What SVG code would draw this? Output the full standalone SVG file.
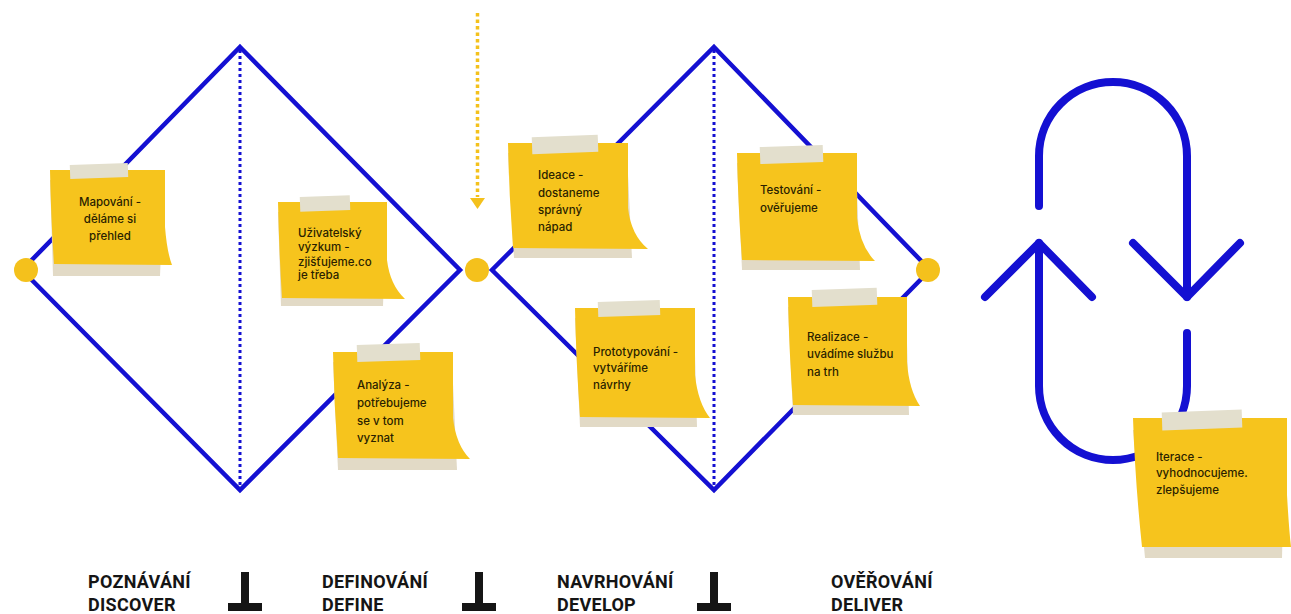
<svg xmlns="http://www.w3.org/2000/svg" width="1291" height="614" viewBox="0 0 1291 614">
<defs>
<style>
.dia{fill:none;stroke:#1410d2;stroke-width:4.5;stroke-linejoin:miter}
.dot{fill:none;stroke:#1410d2;stroke-width:3;stroke-dasharray:3 3}
.ydot{fill:#f4c11c}
.loop{fill:none;stroke:#1410d2;stroke-width:8;stroke-linecap:round;stroke-linejoin:round}
.sh{fill:#e2dac6}
.ny{fill:#f6c41d}
.tape{fill:#e3dfcd}
.nt{font-family:Inter,"Noto Sans",sans-serif;font-size:11.5px;font-weight:500;fill:#2a1f00}
.lab{font-family:Roboto,"Liberation Sans",sans-serif;font-weight:700;font-size:18px;letter-spacing:0.3px;fill:#151515}
.sep{fill:#151515}
</style>
</defs>
<rect width="1291" height="614" fill="#ffffff"/>

<g id="connectors">
<polygon class="dia" points="240,47 460,270 240,490 22,270"/>
<polygon class="dia" points="714,47 930,270 714,490 492,270"/>
<line class="dot" x1="240" y1="50" x2="240" y2="488"/>
<line class="dot" x1="714" y1="50" x2="714" y2="488"/>
<line x1="477.5" y1="13" x2="477.5" y2="197" stroke="#f4c11c" stroke-width="3.5" stroke-dasharray="3.5 3"/>
<polygon points="470,198 485,198 477.5,209" fill="#f4c11c"/>
<path class="loop" d="M1039,206 V156 A74,74 0 0 1 1187,156 V297"/>
<path class="loop" d="M1133,243 L1187,297 L1240,243"/>
<path class="loop" d="M985,297 L1039,243 L1092,297"/>
<path class="loop" d="M1039,243 V386 A74,74 0 0 0 1187,386 V333"/>
</g>

<g id="dot-start"><circle class="ydot" cx="26" cy="270" r="12"/></g>
<g id="dot-mid"><circle class="ydot" cx="477" cy="270" r="12"/></g>
<g id="dot-end"><circle class="ydot" cx="928" cy="270" r="12"/></g>

<g id="note-mapovani">
<polygon class="sh" points="50,180 164,180 160,276 53,276"/>
<path class="ny" d="M50,170 H165 V227 Q167,252 172,265 L54,264 Q51,220 50,170 Z"/>
<rect class="tape" x="70" y="164" width="58" height="14" transform="rotate(-2 99 171)"/>
<text class="nt" text-anchor="middle" font-size="11"><tspan x="110" y="206">Mapování -</tspan><tspan x="110" y="223">děláme si</tspan><tspan x="110" y="240">přehled</tspan></text>
</g>

<g id="note-uzivatelsky">
<polygon class="sh" points="278,212 386,212 383,306 281,306"/>
<path class="ny" d="M278,202 H387 V260 Q390,285 405,299 L282,298 Q279,250 278,202 Z"/>
<rect class="tape" x="300" y="196" width="50" height="15" transform="rotate(-2 325 203)"/>
<text class="nt" font-size="10.5"><tspan x="298" y="237">Uživatelský</tspan><tspan x="298" y="251">výzkum -</tspan><tspan x="298" y="266">zjišťujeme.co</tspan><tspan x="298" y="279">je třeba</tspan></text>
</g>

<g id="note-analyza">
<polygon class="sh" points="333,362 452,362 457,470 338,470"/>
<path class="ny" d="M333,352 H453 V418 Q456,445 470,459 L338,458 Q334,405 333,352 Z"/>
<rect class="tape" x="357" y="344" width="63" height="17" transform="rotate(-2 388 352)"/>
<text class="nt" font-size="12"><tspan x="357" y="389">Analýza -</tspan><tspan x="357" y="407">potřebujeme</tspan><tspan x="357" y="425">se v tom</tspan><tspan x="357" y="442">vyznat</tspan></text>
</g>

<g id="note-ideace">
<polygon class="sh" points="508,153 627,153 632,258 514,258"/>
<path class="ny" d="M508,143 H628 V208 Q631,235 648,249 L513,248 Q509,195 508,143 Z"/>
<rect class="tape" x="532" y="136" width="66" height="17" transform="rotate(-2 565 144)"/>
<text class="nt" font-size="12"><tspan x="538" y="179">Ideace -</tspan><tspan x="538" y="197">dostaneme</tspan><tspan x="538" y="214">správný</tspan><tspan x="538" y="231">nápad</tspan></text>
</g>

<g id="note-prototypovani">
<polygon class="sh" points="575,318 694,318 697,427 580,427"/>
<path class="ny" d="M575,308 H695 V375 Q698,403 710,418 L580,417 Q576,360 575,308 Z"/>
<rect class="tape" x="598" y="301" width="62" height="15" transform="rotate(-2 629 308)"/>
<text class="nt"><tspan x="593" y="356">Prototypování -</tspan><tspan x="593" y="372">vytváříme</tspan><tspan x="593" y="389">návrhy</tspan></text>
</g>

<g id="note-testovani">
<polygon class="sh" points="737,163 856,163 860,270 742,270"/>
<path class="ny" d="M737,153 H857 V218 Q860,246 875,261 L742,260 Q738,205 737,153 Z"/>
<rect class="tape" x="760" y="146" width="63" height="17" transform="rotate(-2 791 154)"/>
<text class="nt" font-size="12"><tspan x="760" y="194">Testování -</tspan><tspan x="760" y="212">ověřujeme</tspan></text>
</g>

<g id="note-realizace">
<polygon class="sh" points="788,307 906,307 909,415 793,415"/>
<path class="ny" d="M788,297 H907 V362 Q909,390 920,406 L793,405 Q789,350 788,297 Z"/>
<rect class="tape" x="812" y="289" width="65" height="17" transform="rotate(-2 844 297)"/>
<text class="nt"><tspan x="807" y="341">Realizace -</tspan><tspan x="807" y="358">uvádíme službu</tspan><tspan x="807" y="376">na trh</tspan></text>
</g>

<g id="note-iterace">
<polygon class="sh" points="1133,430 1285,430 1282,558 1145,558"/>
<path class="ny" d="M1133,418 H1287 V495 Q1289,530 1291,547 L1142,547 Q1135,480 1133,418 Z"/>
<rect class="tape" x="1162" y="411" width="80" height="18" transform="rotate(-2 1202 420)"/>
<text class="nt" font-size="12" font-weight="600"><tspan x="1156" y="461">Iterace -</tspan><tspan x="1156" y="477">vyhodnocujeme.</tspan><tspan x="1156" y="494">zlepšujeme</tspan></text>
</g>

<g id="label-discover">
<text class="lab"><tspan x="88" y="588">POZNÁVÁNÍ</tspan><tspan x="88" y="611">DISCOVER</tspan></text>
<rect class="sep" x="241" y="572" width="8" height="34"/>
<rect class="sep" x="228" y="603" width="34" height="8"/>
</g>
<g id="label-define">
<text class="lab"><tspan x="322" y="588">DEFINOVÁNÍ</tspan><tspan x="322" y="611">DEFINE</tspan></text>
<rect class="sep" x="475" y="572" width="8" height="34"/>
<rect class="sep" x="462" y="603" width="34" height="8"/>
</g>
<g id="label-develop">
<text class="lab"><tspan x="557" y="588">NAVRHOVÁNÍ</tspan><tspan x="557" y="611">DEVELOP</tspan></text>
<rect class="sep" x="710" y="572" width="8" height="34"/>
<rect class="sep" x="697" y="603" width="34" height="8"/>
</g>
<g id="label-deliver">
<text class="lab"><tspan x="831" y="588">OVĚŘOVÁNÍ</tspan><tspan x="831" y="611">DELIVER</tspan></text>
</g>
</svg>
